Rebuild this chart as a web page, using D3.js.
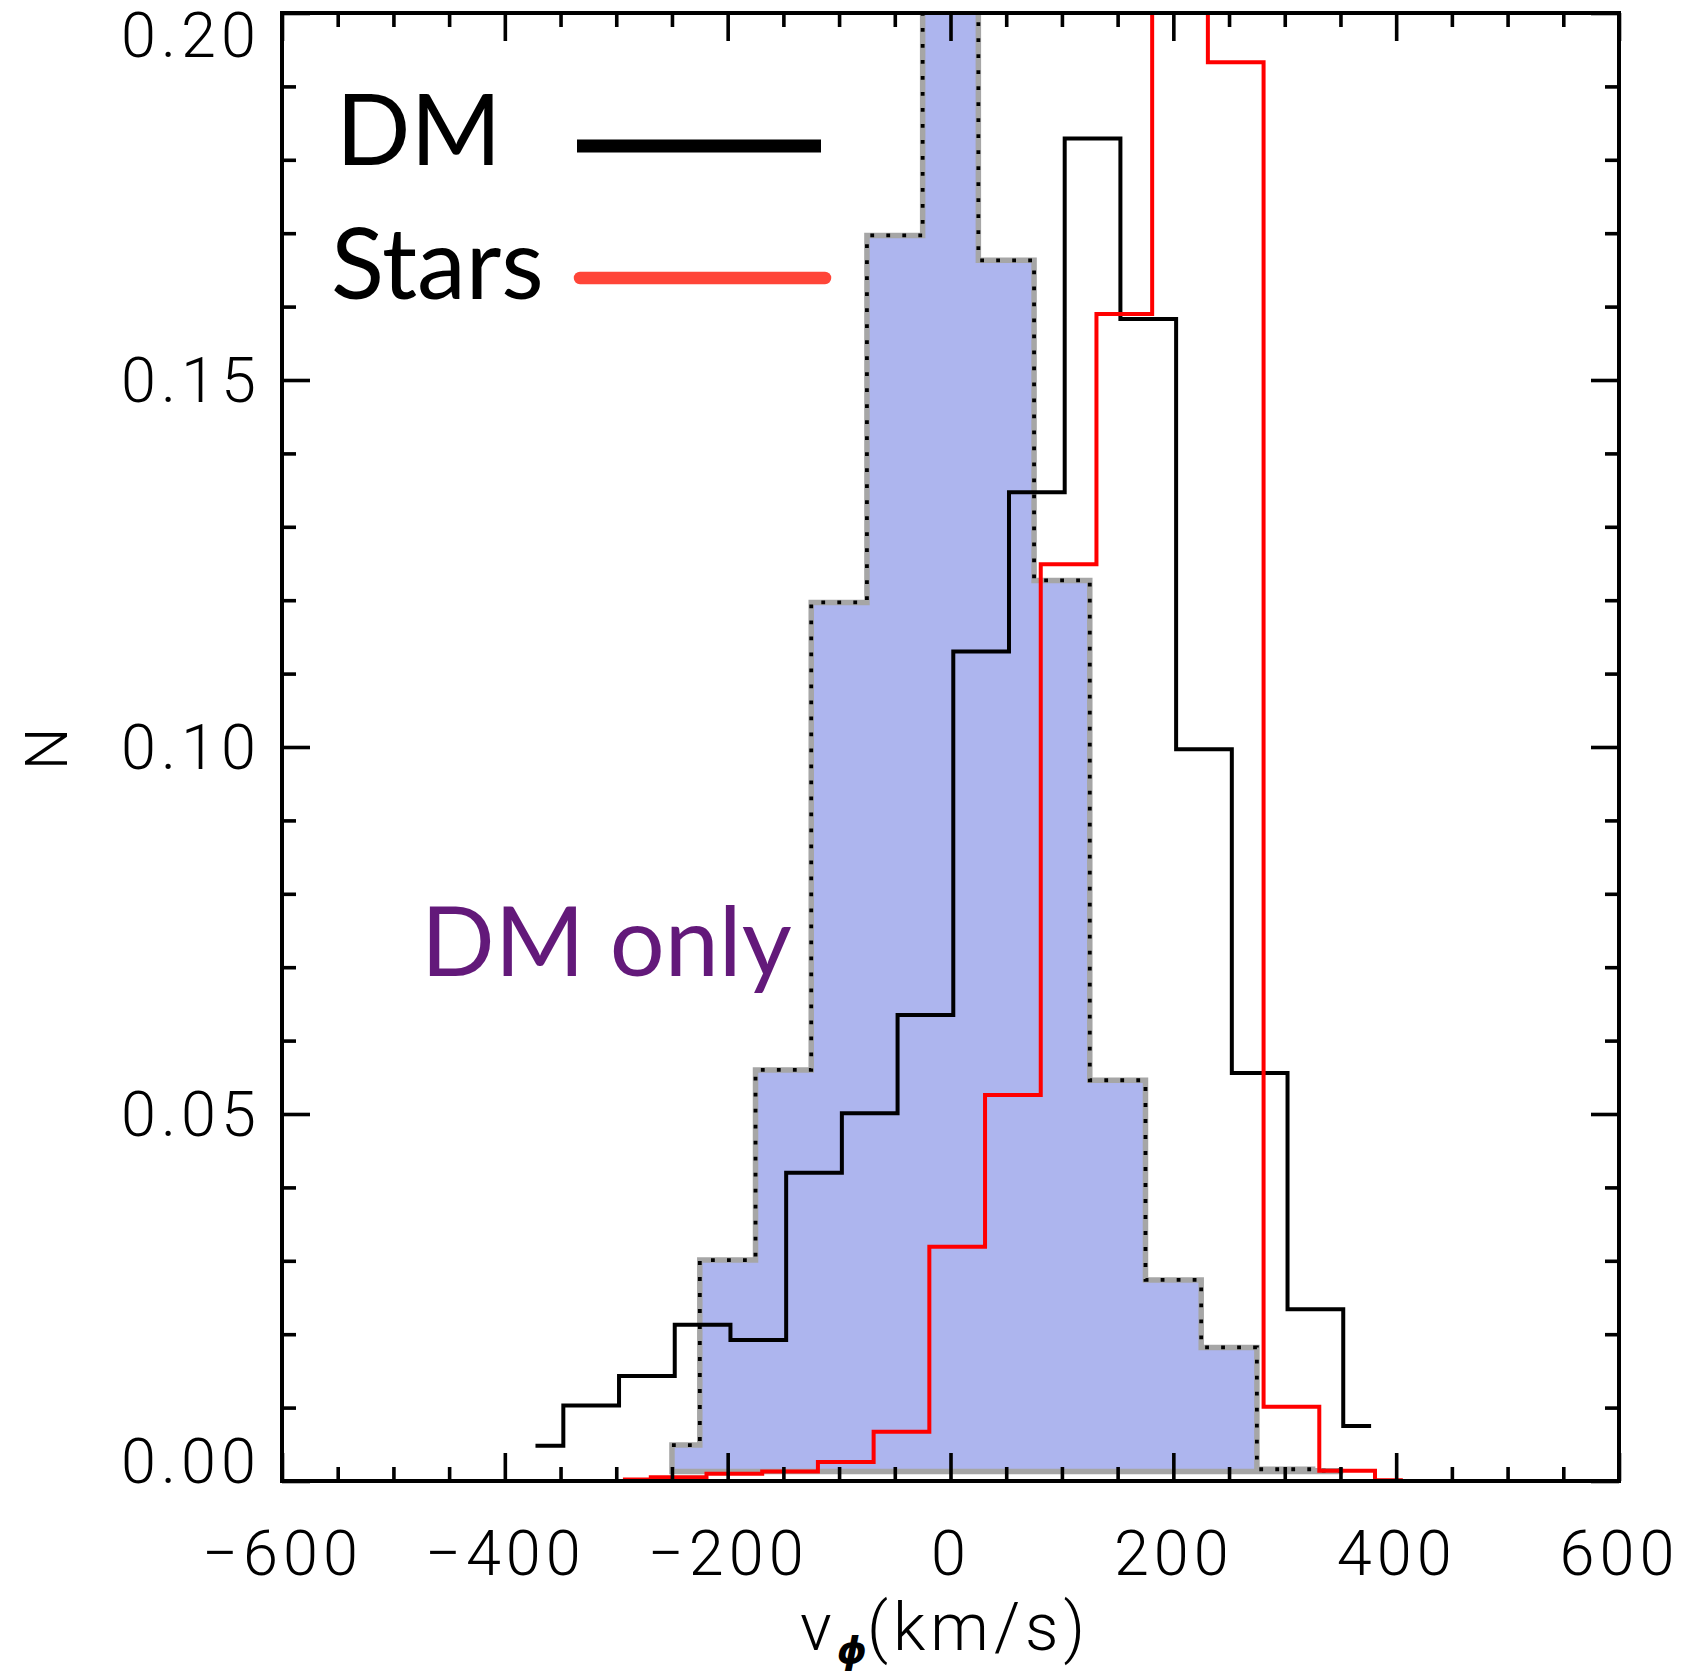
<!DOCTYPE html>
<html>
<head>
<meta charset="utf-8">
<script src="https://cdn.jsdelivr.net/npm/d3@7"></script>
<style>
  html, body { margin: 0; padding: 0; background: #ffffff; }
  svg { display: block; }
</style>
</head>
<body>
<svg id="chart" width="1708" height="1676"></svg>
<script>
// Azimuthal velocity histograms (bin centres in km/s, normalised counts)
const dmCenters = [-372.5, -322.5, -272.5, -222.5, -172.5, -122.5, -72.5, -22.5,
                   27.5, 77.5, 127.5, 177.5, 227.5, 277.5, 327.5, 377.5];
const dmValues = [0.0048, 0.0103, 0.0143, 0.0213, 0.0192, 0.0420, 0.0501, 0.0635,
                  0.1130, 0.1347, 0.1829, 0.1583, 0.0997, 0.0556, 0.0234, 0.0075];

const starCenters = [-294, -244, -194, -144, -94, -44, 6, 56,
                     106, 156, 206, 256, 306, 356, 406];
const starValues = [0.0002, 0.0005, 0.0010, 0.0013, 0.0026, 0.0067, 0.0319, 0.0526,
                    0.1249, 0.1590, 0.4140, 0.1933, 0.0101, 0.0014, 0.0001];

const dmOnlyCenters = [-250, -200, -150, -100, -50, 0, 50, 100, 150, 200, 250, 300, 350];
const dmOnlyValues = [0.0049, 0.0301, 0.0560, 0.1197, 0.1697, 0.2270, 0.1663, 0.1227,
                      0.0546, 0.0274, 0.0182, 0.0016, 0.0014];
const dmOnlyBase = 0.0013;

// Axis ticks
const xMajorTicks = [-600, -400, -200, 0, 200, 400, 600];
const xTickLabels = ["\u2212600", "\u2212400", "\u2212200", "0", "200", "400", "600"];
const xMinorTicks = [-550, -500, -450, -350, -300, -250, -150, -100, -50,
                     50, 100, 150, 250, 300, 350, 450, 500, 550];
const yMajorTicks = [0, 0.05, 0.10, 0.15, 0.20];
const yTickLabels = ["0.00", "0.05", "0.10", "0.15", "0.20"];
const yMinorTicks = [0.01, 0.02, 0.03, 0.04, 0.06, 0.07, 0.08, 0.09,
                     0.11, 0.12, 0.13, 0.14, 0.16, 0.17, 0.18, 0.19];

const plot = { left: 282, right: 1619, top: 13, bottom: 1481 };
const svg = d3.select("#chart");

const x = d3.scaleLinear().domain([-600, 600]).range([plot.left, plot.right]);
const y = d3.scaleLinear().domain([0, 0.2]).range([plot.bottom, plot.top]);

svg.append("defs").append("clipPath").attr("id", "plotClip")
  .append("rect")
  .attr("x", plot.left).attr("y", plot.top)
  .attr("width", plot.right - plot.left).attr("height", plot.bottom - plot.top);

const tickFont = "Roboto, 'DejaVu Sans', sans-serif";
const majorLen = 28, minorLen = 14;
const histWidth = 4;

const g = svg.append("g").attr("clip-path", "url(#plotClip)");

const zip = (a, b) => a.map((v, i) => [v, b[i]]);

// DM-only histogram: filled area with grey outline and dotted step line
const dmOnlyArea = d3.area()
  .x(d => x(d[0]))
  .y0(y(dmOnlyBase))
  .y1(d => y(d[1]))
  .curve(d3.curveStep);

g.append("path")
  .datum(zip(dmOnlyCenters, dmOnlyValues))
  .attr("d", dmOnlyArea)
  .attr("fill", "#adb5ee")
  .attr("stroke", "#a6a6a6")
  .attr("stroke-width", 5.5)
  .attr("stroke-linejoin", "miter");

const step = d3.line()
  .x(d => x(d[0]))
  .y(d => y(d[1]))
  .curve(d3.curveStep);

g.append("path")
  .datum(zip(dmOnlyCenters, dmOnlyValues))
  .attr("d", step)
  .attr("fill", "none")
  .attr("stroke", "#000")
  .attr("stroke-width", 3.8)
  .attr("stroke-dasharray", "3.8,12.2");

// DM histogram
g.append("path")
  .datum(zip(dmCenters, dmValues))
  .attr("d", step)
  .attr("fill", "none")
  .attr("stroke", "#000")
  .attr("stroke-width", histWidth)
  .attr("stroke-linejoin", "miter");

// Stars histogram
g.append("path")
  .datum(zip(starCenters, starValues))
  .attr("d", step)
  .attr("fill", "none")
  .attr("stroke", "#ff0000")
  .attr("stroke-width", histWidth)
  .attr("stroke-linejoin", "miter");

// Axes: ticks point inwards on all four sides
function styleAxis(sel) {
  sel.select(".domain").remove();
  sel.selectAll(".tick line").attr("stroke", "#000").attr("stroke-width", 3.6);
  sel.selectAll("text")
    .attr("fill", "#000")
    .style("font-family", tickFont)
    .style("font-weight", 300)
    .style("font-size", "63px")
    .style("letter-spacing", "5px");
}

// bottom
svg.append("g").attr("transform", `translate(0,${plot.bottom})`)
  .call(d3.axisBottom(x).tickValues(xMajorTicks).tickSize(-majorLen).tickPadding(49)
        .tickFormat((d, i) => xTickLabels[i]))
  .call(styleAxis);
svg.append("g").attr("transform", `translate(0,${plot.bottom})`)
  .call(d3.axisBottom(x).tickValues(xMinorTicks).tickSize(-minorLen).tickFormat(""))
  .call(styleAxis);
// top
svg.append("g").attr("transform", `translate(0,${plot.top})`)
  .call(d3.axisTop(x).tickValues(xMajorTicks).tickSize(-majorLen).tickFormat(""))
  .call(styleAxis);
svg.append("g").attr("transform", `translate(0,${plot.top})`)
  .call(d3.axisTop(x).tickValues(xMinorTicks).tickSize(-minorLen).tickFormat(""))
  .call(styleAxis);
// left
const yAxisG = svg.append("g").attr("transform", `translate(${plot.left},0)`)
  .call(d3.axisLeft(y).tickValues(yMajorTicks).tickSize(-majorLen).tickPadding(21)
        .tickFormat((d, i) => yTickLabels[i]))
  .call(styleAxis);
// keep the end labels inside the vertical extent of the frame
yAxisG.selectAll(".tick text")
  .attr("dy", d => d === 0.20 ? "0.69em" : d === 0 ? "0.02em" : "0.34em");
svg.append("g").attr("transform", `translate(${plot.left},0)`)
  .call(d3.axisLeft(y).tickValues(yMinorTicks).tickSize(-minorLen).tickFormat(""))
  .call(styleAxis);
// right
svg.append("g").attr("transform", `translate(${plot.right},0)`)
  .call(d3.axisRight(y).tickValues(yMajorTicks).tickSize(-majorLen).tickFormat(""))
  .call(styleAxis);
svg.append("g").attr("transform", `translate(${plot.right},0)`)
  .call(d3.axisRight(y).tickValues(yMinorTicks).tickSize(-minorLen).tickFormat(""))
  .call(styleAxis);

// Frame
svg.append("rect")
  .attr("x", plot.left).attr("y", plot.top)
  .attr("width", plot.right - plot.left).attr("height", plot.bottom - plot.top)
  .attr("fill", "none").attr("stroke", "#000").attr("stroke-width", 4);

// Axis titles
const xTitle = svg.append("text")
  .attr("x", 945).attr("y", 1650)
  .attr("text-anchor", "middle")
  .style("font-family", tickFont).style("font-weight", 300)
  .style("font-size", "66px").style("letter-spacing", "5px")
  .attr("fill", "#000");
xTitle.append("tspan").text("v");
xTitle.append("tspan").text("\u03D5")
  .attr("dy", 13)
  .style("font-family", "'DejaVu Sans', sans-serif")
  .style("font-weight", 700).style("font-style", "italic")
  .style("font-size", "38px").style("letter-spacing", "0px");
xTitle.append("tspan").text("(km/s)").attr("dy", -13);

svg.append("text")
  .attr("transform", "translate(46,749) rotate(-90)")
  .attr("text-anchor", "middle")
  .attr("dominant-baseline", "central")
  .style("font-family", tickFont).style("font-weight", 300)
  .style("font-size", "60px")
  .attr("fill", "#000")
  .text("N");

// Legend
const legendFont = "Lato, 'Open Sans', sans-serif";
svg.append("text").attr("x", 336).attr("y", 165)
  .style("font-family", legendFont).style("font-size", "98px")
  .attr("fill", "#000").text("DM");
svg.append("line")
  .attr("x1", 577).attr("x2", 821).attr("y1", 146).attr("y2", 146)
  .attr("stroke", "#000").attr("stroke-width", 13);

svg.append("text").attr("x", 331).attr("y", 299)
  .style("font-family", legendFont).style("font-size", "98px")
  .attr("fill", "#000").text("Stars");
svg.append("line")
  .attr("x1", 580).attr("x2", 825).attr("y1", 278).attr("y2", 278)
  .attr("stroke", "#ff4538").attr("stroke-width", 12.5)
  .attr("stroke-linecap", "round");

// In-plot label for the DM-only run
svg.append("text").attr("x", 421).attr("y", 976)
  .style("font-family", legendFont).style("font-size", "97px")
  .attr("fill", "#63197a").text("DM only");
</script>
</body>
</html>
